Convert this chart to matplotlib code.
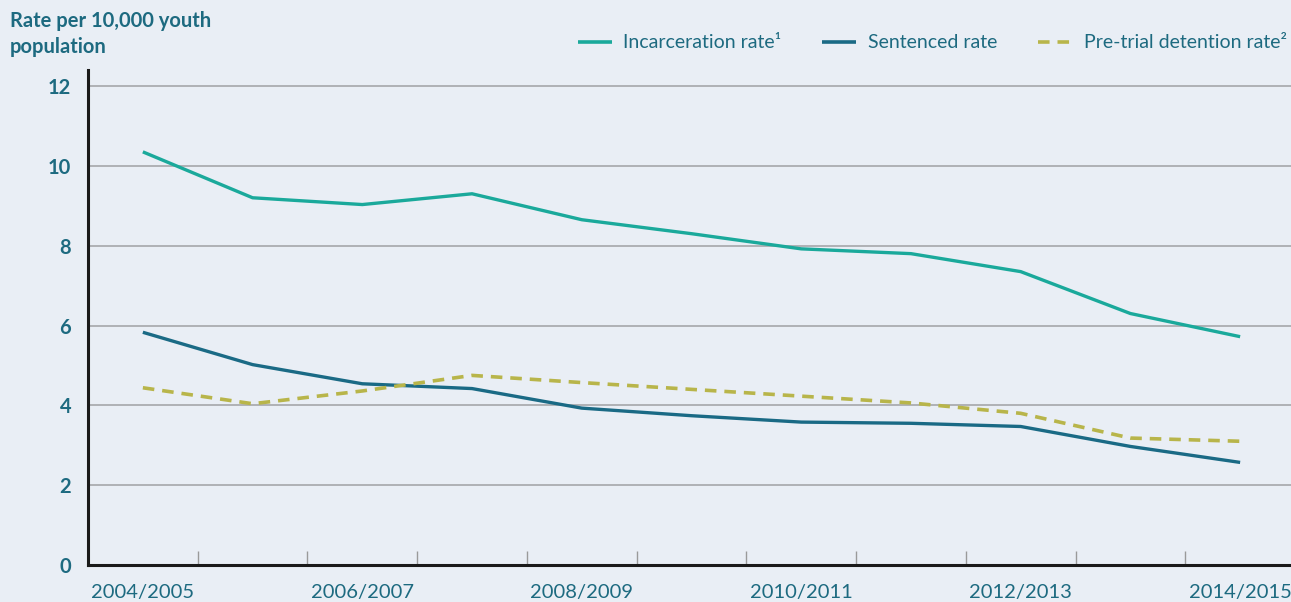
import matplotlib
matplotlib.use("Agg")
import matplotlib.pyplot as plt
from matplotlib.ticker import FixedLocator, NullFormatter
import numpy as np

# ---- data ----
years = ["2004/2005", "2005/2006", "2006/2007", "2007/2008", "2008/2009", "2009/2010",
         "2010/2011", "2011/2012", "2012/2013", "2013/2014", "2014/2015"]
incarceration = [10.35, 9.2, 9.03, 9.3, 8.65, 8.3, 7.92, 7.8, 7.35, 6.3, 5.72]
sentenced = [5.83, 5.02, 4.54, 4.42, 3.93, 3.74, 3.58, 3.55, 3.47, 2.97, 2.57]
pretrial = [4.44, 4.04, 4.36, 4.75, 4.57, 4.40, 4.23, 4.06, 3.80, 3.18, 3.10]
yticks = [0, 2, 4, 6, 8, 10, 12]
ylabel_text = "Rate per 10,000 youth\npopulation"
labels = ["Incarceration rate\u00b9", "Sentenced rate", "Pre-trial detention rate\u00b2"]

# ---- style ----
BG = "#e9eef5"
TEXT = "#1d6a80"
C_INC = "#1aa99b"
C_SEN = "#1a6a85"
C_PRE = "#b8b54a"
FONT = "Lato"

W, H = 1291, 602
fig = plt.figure(figsize=(W / 100, H / 100), dpi=100)
fig.patch.set_facecolor(BG)

x0, x1 = 88, 1295
ybot, ytop = 565, 70
ax = fig.add_axes([x0 / W, (H - ybot) / H, (x1 - x0) / W, (ybot - ytop) / H])
ax.set_facecolor(BG)

x = np.arange(len(years))
ax.plot(x, incarceration, color=C_INC, lw=2.4, label=labels[0], solid_capstyle="butt")
ax.plot(x, sentenced, color=C_SEN, lw=2.4, label=labels[1], solid_capstyle="butt")
ax.plot(x, pretrial, color=C_PRE, lw=2.6, ls=(0, (3.2, 2.2)), label=labels[2])

ax.set_xlim(-0.5, len(years) - 0.5)
ymax = (565 - 70) / ((565 - 86) / 12)
ax.set_ylim(0, ymax)

# grid lines
for v in yticks[1:]:
    ax.axhline(v, color="#a5a7aa", lw=1.2, zorder=0)

ax.set_yticks(yticks)
ax.set_yticklabels([str(v) for v in yticks], fontfamily=FONT, fontweight="bold",
                   fontsize=14.5, color=TEXT)
ax.tick_params(axis="y", length=0, pad=12)

ax.set_xticks(x[::2])
ax.set_xticklabels(years[::2], fontfamily=FONT, fontsize=14.5, color=TEXT)
ax.tick_params(axis="x", which="major", length=0, pad=14)
ax.xaxis.set_minor_locator(FixedLocator(np.arange(0.5, len(years) - 0.5, 1.0)))
ax.xaxis.set_minor_formatter(NullFormatter())
ax.tick_params(axis="x", which="minor", direction="in", length=10, width=1, color="#9a9a9a")

for s in ["top", "right"]:
    ax.spines[s].set_visible(False)
for s in ["left", "bottom"]:
    ax.spines[s].set_color("#1a1a1a")
    ax.spines[s].set_linewidth(2.2)

fig.text(10 / W, 1 - 11 / H, ylabel_text, ha="left", va="top", fontfamily=FONT,
         fontweight="bold", fontsize=14.5, color=TEXT, linespacing=1.35)

leg = fig.legend(loc="center right", bbox_to_anchor=(1287 / W, 1 - 43 / H), ncol=3,
                 frameon=False, prop={"family": FONT, "size": 14}, borderaxespad=0.0,
                 borderpad=0.0, handlelength=1.75, handletextpad=0.6, columnspacing=2.1)
for t in leg.get_texts():
    t.set_color(TEXT)
for h in leg.get_lines():
    h.set_linewidth(2.6)

fig.savefig("out.png", dpi=100, facecolor=BG)
